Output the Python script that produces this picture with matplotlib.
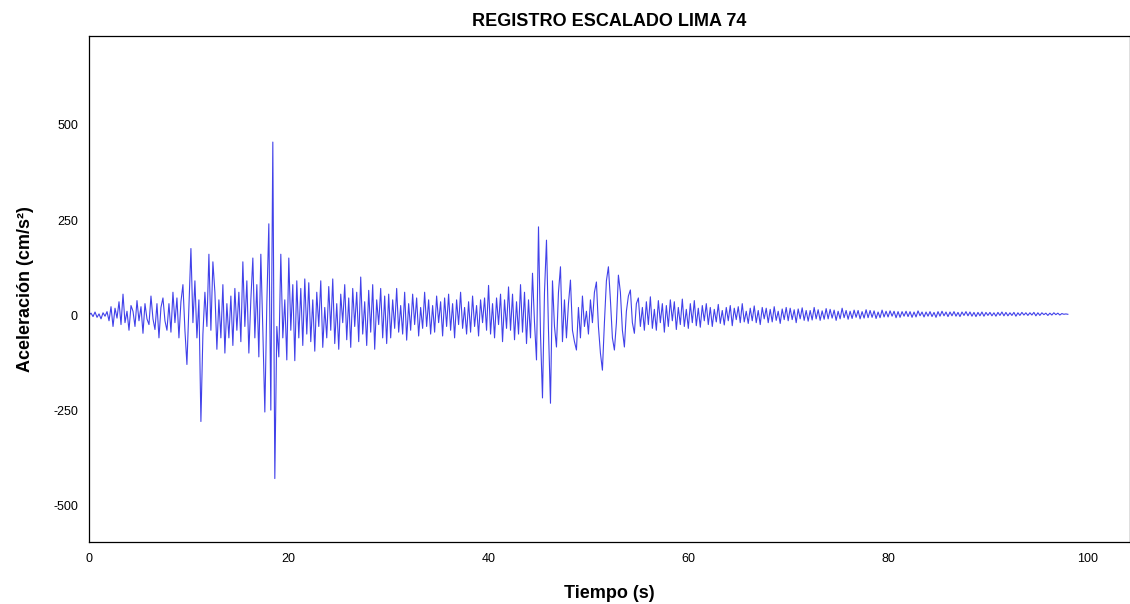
import numpy as np
from matplotlib import pyplot as plt

DT = 0.2
acc_00_20 = [
    0, 5, -4, 8, -6, 3, -10, 6, -3, 9,
    -15, 22, -30, 18, -8, 35, -25, 55, -20, 10,
    -40, 25, 10, -30, 38, -15, 22, -48, 30, -10,
    -25, 50, -10, -38, 30, -60, 20, 45, -15, -40,
    30, -45, 60, -20, 45, -60, 35, 80, -40, -130,
    20, 175, -20, 90, -60, 40, -280, -50, 60, -30,
    160, -40, 140, 60, -90, 40, -60, 80, -100, 30,
    -60, 50, -80, 70, -40, 60, -70, 140, -30, 90,
    -100, 40, 150, -60, 80, -110, 160, -40, -255, 30,
    240, -250, 455, -430, -30, -110, 160, -60, 40, -118,
]
acc_20_40 = [
    150, -40, 80, -120, 90, -60, 70, -80, 95, -50,
    85, -70, 40, -95, 60, -30, 90, -85, 20, -60,
    75, -40, 95, -75, 30, -90, 55, -20, 80, -65,
    45, -85, 70, -30, 60, -70, 100, -50, 35, -80,
    65, -45, 80, -90, 40, -25, 70, -60, 50, -75,
    55, -60, 40, -35, 70, -45, 25, -50, 60, -66,
    30, -40, 55, -25, 45, -55, 20, -35, 60, -30,
    40, -50, 25, -45, 50, -20, 35, -55, 45, -30,
    55, -40, 30, -60, 40, -25, 60, -35, 20, -50,
    35, -45, 50, -30, 25, -55, 40, -20, 45, -40,
]
acc_40_60 = [
    78, -50, 30, -60, 45, -25, 55, -70, 40, -35,
    74, -40, 55, -65, 35, -50, 80, -45, 60, -75,
    40, -60, 110, -20, -118, 232, -50, -218, 60, 197,
    -40, -232, 90, -30, -84, 60, 127, -70, 40, -60,
    30, 92, -40, -70, -92, 20, -60, 50, -30, 10,
    -50, 40, -20, 60, 87, -30, -100, -145, -20, 90,
    127, 40, -60, -92, -20, 105, 60, -40, -84, 10,
    50, 66, -20, -48, 30, 45, -30, 20, -40, 35,
    -25, 48, -35, 15, -40, 38, -20, 30, -45, 25,
    -30, 40, -15, 35, -38, 20, -25, 42, -30, 15,
]
acc_60_98 = [
    -35, 30, -20, 38, -28, 18, -32, 25, -15, 30,
    -25, 20, -30, 15, -18, 28, -22, 12, -26, 20,
    -15, 25, -28, 18, -12, 22, -20, 30, -18, 10,
    -22, 18, -15, 24, -20, 12, -25, 20, -10, 18,
    -20, 15, -18, 22, -14, 10, -22, 16, -12, 20,
    -15, 18, -12, 14, -20, 16, -10, 19, -14, 12,
    -16, 12, -13, 20, -10, 14, -14, 11, -11, 17,
    -10, 15, -8, 13, -14, 10, -10, 18, -7, 12,
    -11, 10, -9, 13, -6, 12, -10, 9, -8, 14,
    -7, 12, -6, 11, -9, 8, -7, 13, -5, 10,
    -5, 11, -3, 10, -7, 9, -6, 9, -3, 10,
    -4, 9, -6, 8, -5, 11, -2, 8, -5, 8,
    -3, 9, -4, 7, -6, 9, -3, 10, -2, 8,
    -4, 8, -2, 9, -3, 7, -4, 8, -1, 9,
    -2, 8, -3, 7, -4, 7, -2, 8, -3, 7,
    -1, 7, -2, 6, -3, 7, -1, 8, -2, 7,
    -2, 6, -1, 7, -3, 6, -1, 7, 0, 6,
    -1, 6, 0, 7, -2, 6, -1, 6, 1, 5,
    -1, 5, 0, 6, 1, 5, 0, 4, 2, 3,
    2,
]

acc = np.array(acc_00_20 + acc_20_40 + acc_40_60 + acc_60_98, dtype=float)
t = np.arange(len(acc)) * DT

plt.rcParams['font.family'] = ['Liberation Sans', 'DejaVu Sans']
plt.rcParams['axes.unicode_minus'] = False

fig = plt.figure(figsize=(11.3, 6.04), dpi=100)
ax = fig.add_axes([0.0788, 0.1026, 0.921, 0.8378])
ax.plot(t, acc, color='#2020e6', lw=0.8, alpha=0.85)

ax.set_xlim(0, 104.2)
ax.set_ylim(-597, 734)
ax.set_xticks([0, 20, 40, 60, 80, 100])
ax.set_yticks([-500, -250, 0, 250, 500])
ax.tick_params(length=0, labelsize=9, pad=8)
for s in ax.spines.values():
    s.set_linewidth(0.9)

ax.set_title('REGISTRO ESCALADO LIMA 74', fontsize=13, fontweight='bold', pad=7)
ax.set_xlabel('Tiempo (s)', fontsize=13, fontweight='bold', labelpad=14)
ax.set_ylabel('Aceleración (cm/s²)', fontsize=13, fontweight='bold', labelpad=14)

fig.savefig('out.png', dpi=100)
